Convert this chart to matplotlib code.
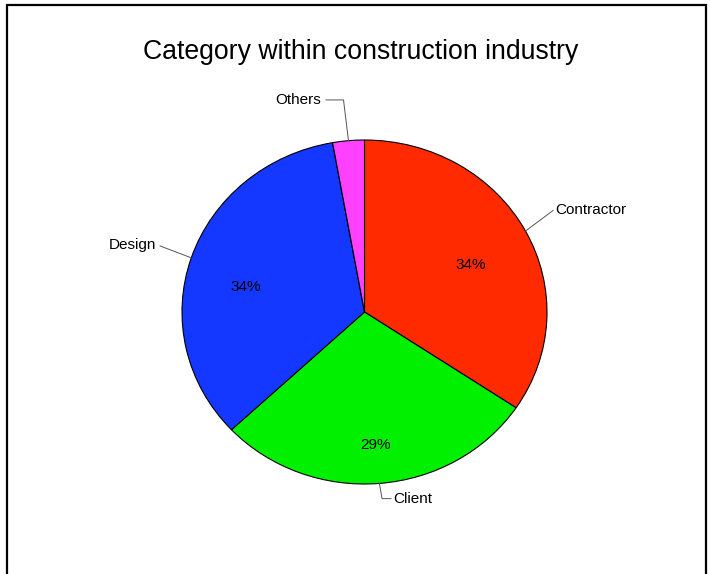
import matplotlib
matplotlib.use("Agg")
import matplotlib.pyplot as plt
import numpy as np
from matplotlib.patches import Rectangle

plt.rcParams['font.family'] = ['Liberation Sans', 'DejaVu Sans']

categories = ["Contractor", "Client", "Design", "Others"]
values = [34.4, 28.6, 34.2, 2.8]
colors = ["#FF2A00", "#00F000", "#1438FF", "#FF40FF"]
title = "Category within construction industry"

W, H = 710, 574
fig = plt.figure(figsize=(W / 100, H / 100), dpi=100)

# frame
fig.patches.append(Rectangle((7 / W, -0.1), (706 - 7) / W, (H - 5) / H + 0.1,
                             transform=fig.transFigure, fill=False,
                             edgecolor="black", linewidth=1.6))

cx, cy, rx, ry = 364.5, 312, 182.5, 172
ax = fig.add_axes([(cx - rx) / W, (H - cy - ry) / H, 2 * rx / W, 2 * ry / H])
wedges, _ = ax.pie(values, colors=colors, startangle=90, counterclock=False,
                   wedgeprops=dict(edgecolor="black", linewidth=0.8))
ax.set_aspect('auto')
ax.set_xlim(-1, 1)
ax.set_ylim(-1, 1)
ax.axis('off')

fs = 11
# percentage labels (positions in pie units)
pct_pos = [(0.584, 0.273), (0.058, -0.773), (-0.649, 0.145), None]
for v, p in zip(values, pct_pos):
    if p is not None:
        ax.text(p[0], p[1], f"{v:.0f}%", ha="center", va="center", fontsize=fs)

# category labels with leader lines
mids = []
cum = 0
for v in values:
    mid = (cum + v / 2) / sum(values) * 2 * np.pi
    mids.append((np.sin(mid), np.cos(mid)))
    cum += v

lc = "#555555"
# Contractor
e = mids[0]
ax.plot([e[0], 1.033], [e[1], 0.59], color=lc, lw=0.7, clip_on=False)
ax.text(1.044, 0.593, categories[0], ha="left", va="center", fontsize=fs)
# Client
e = mids[1]
ax.plot([e[0], 0.096, 0.145], [e[1], -1.085, -1.085], color=lc, lw=0.7, clip_on=False)
ax.text(0.155, -1.085, categories[1], ha="left", va="center", fontsize=fs)
# Design
e = mids[2]
ax.plot([e[0], -1.12], [e[1], 0.384], color=lc, lw=0.7, clip_on=False)
ax.text(-1.142, 0.392, categories[2], ha="right", va="center", fontsize=fs)
# Others
e = mids[3]
ax.plot([e[0], -0.115, -0.211], [e[1], 1.233, 1.233], color=lc, lw=0.7, clip_on=False)
ax.text(-0.238, 1.233, categories[3], ha="right", va="center", fontsize=fs)

fig.text(361 / W, 1 - 52 / H, title, ha="center", va="center", fontsize=19.2)

fig.savefig("out.png", dpi=100)
